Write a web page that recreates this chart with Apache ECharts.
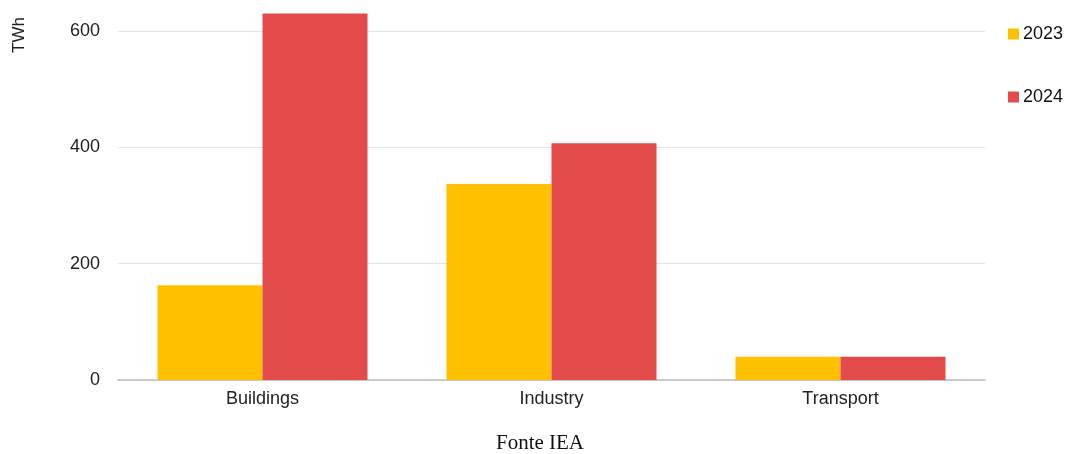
<!DOCTYPE html>
<html>
<head>
<meta charset="utf-8">
<script src="https://cdn.jsdelivr.net/npm/echarts@6/dist/echarts.min.js"></script>
<style>
  html, body { margin: 0; padding: 0; background: #fff; }
  #chart { width: 1065px; height: 454px; }
</style>
</head>
<body>
<div id="chart"></div>
<script>
// Electricity demand by sector (TWh)
const categories = ['Buildings', 'Industry', 'Transport'];
const seriesNames = ['2023', '2024'];
const values2023 = [163, 337, 40];
const values2024 = [630, 407, 40];
const yTicks = [0, 200, 400, 600];

const chart = echarts.init(document.getElementById('chart'));

const barColors = ['#FFC000', '#E24B4A'];
const sans = 'Liberation Sans, Arial, sans-serif';

chart.setOption({
  animation: false,
  grid: { left: 118, right: 80, top: 31, bottom: 74 },
  legend: {
    orient: 'vertical',
    left: 1008,
    top: 25,
    padding: 0,
    itemWidth: 11,
    itemHeight: 11,
    itemGap: 45,
    icon: 'rect',
    textStyle: { fontFamily: sans, fontSize: 18, color: '#111', padding: [0, 0, 0, -1] },
    data: seriesNames
  },
  graphic: [
    {
      type: 'text',
      x: 19.5, y: 53,
      rotation: Math.PI / 2,
      style: { text: 'TWh', font: '17px "Liberation Sans", Arial, sans-serif', fill: '#222', textAlign: 'left', textVerticalAlign: 'middle' }
    },
    {
      type: 'text',
      x: 540, y: 443,
      style: { text: 'Fonte IEA', font: '21px "Liberation Serif", "Times New Roman", serif', fill: '#111', textAlign: 'center', textVerticalAlign: 'middle' }
    }
  ],
  xAxis: {
    type: 'category',
    data: categories,
    axisTick: { show: false },
    axisLine: { lineStyle: { color: '#BFBFBF', width: 1.5 } },
    axisLabel: { margin: 10, fontSize: 18, color: '#222', fontFamily: sans }
  },
  yAxis: {
    type: 'value',
    min: yTicks[0],
    max: yTicks[yTicks.length - 1],
    interval: 200,
    axisLine: { show: false },
    axisTick: { show: false },
    axisLabel: { margin: 18, fontSize: 18, color: '#222', fontFamily: sans },
    splitLine: { lineStyle: { color: '#E3E3E3', width: 1 } }
  },
  series: [
    {
      name: seriesNames[0],
      type: 'bar',
      data: values2023,
      barWidth: 105,
      barGap: '0%',
      clip: false,
      itemStyle: { color: barColors[0] }
    },
    {
      name: seriesNames[1],
      type: 'bar',
      data: values2024,
      barWidth: 105,
      barGap: '0%',
      clip: false,
      itemStyle: { color: barColors[1] }
    }
  ]
});
</script>
</body>
</html>
